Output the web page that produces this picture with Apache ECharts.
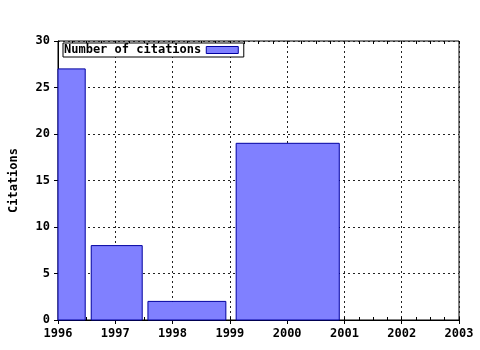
<!DOCTYPE html>
<html><head><meta charset="utf-8">
<script src="https://cdn.jsdelivr.net/npm/echarts@6/dist/echarts.min.js"></script>
<style>html,body{margin:0;padding:0;background:#fff}#c{width:480px;height:350px}</style>
</head><body><div id="c"></div>
<script>
var binStart = [1996.0, 1996.58, 1997.57, 1999.11];
var binEnd   = [1996.475, 1997.47, 1998.93, 2000.91];
var citations = [27, 8, 2, 19];
var xTicks = [1996, 1997, 1998, 1999, 2000, 2001, 2002, 2003];
var yTicks = [0, 5, 10, 15, 20, 25, 30];
var seriesName = 'Number of citations';

var font = 'DejaVu Sans Mono';
var data = binStart.map(function(s, i){ return [s, binEnd[i], citations[i]]; });
var chart = echarts.init(document.getElementById('c'));
var minorAxis = function(pos){
  return {type:'value', position:pos, min:xTicks[0], max:xTicks[xTicks.length-1], interval:0.25,
    axisLine:{show:false}, axisLabel:{show:false}, splitLine:{show:false},
    axisTick:{show:true, inside:true, length:3, lineStyle:{color:'#000'}}};
};
chart.setOption({
  animation:false,
  grid:{left:56, right:21, top:41, bottom:30, show:true, borderColor:'#000', borderWidth:1},
  legend:{show:true, left:63, top:43, align:'right', orient:'horizontal', z:10,
    backgroundColor:'#fff',
    padding:[1,5,1,1], borderColor:'#000', borderWidth:1, itemWidth:32, itemHeight:7,
    textStyle:{fontFamily:font, fontWeight:'bold', fontSize:12, color:'#000'},
    data:[{name:seriesName, icon:'rect', itemStyle:{color:'#8080ff', borderColor:'#0000a0', borderWidth:1}}]},
  xAxis:[{type:'value', position:'bottom', min:xTicks[0], max:xTicks[xTicks.length-1], interval:1,
    axisLine:{lineStyle:{color:'#000'}},
    axisTick:{show:true, inside:false, length:4, lineStyle:{color:'#000'}},
    axisLabel:{fontFamily:font, fontWeight:'bold', fontSize:12, color:'#000', margin:8,
      formatter:function(v){ return String(v); }},
    splitLine:{show:true, lineStyle:{color:'#222', type:[2,3]}}},
    minorAxis('top'), minorAxis('bottom')],
  yAxis:{type:'value', min:yTicks[0], max:yTicks[yTicks.length-1], interval:5,
    name:'Citations', nameLocation:'middle', nameRotate:90, nameGap:38,
    nameTextStyle:{fontFamily:font, fontWeight:'bold', fontSize:12, color:'#000'},
    axisLine:{show:true, lineStyle:{color:'#000'}},
    axisTick:{show:true, inside:false, length:4, lineStyle:{color:'#000'}},
    axisLabel:{fontFamily:font, fontWeight:'bold', fontSize:12, color:'#000', margin:8},
    splitLine:{show:true, lineStyle:{color:'#222', type:[2,3]}}},
  series:[{type:'custom', name:seriesName, xAxisIndex:0, yAxisIndex:0,
    itemStyle:{color:'#8080ff', borderColor:'#0000a0', borderWidth:1},
    renderItem:function(params, api){
      var p0 = api.coord([api.value(0), api.value(2)]);
      var p1 = api.coord([api.value(1), 0]);
      return {type:'rect', shape:{x:p0[0], y:p0[1], width:p1[0]-p0[0], height:p1[1]-p0[1]},
        style:{fill:'#8080ff', stroke:'#0000a0', lineWidth:1}};
    },
    encode:{x:[0,1], y:2},
    data:data}]
});
</script></body></html>
